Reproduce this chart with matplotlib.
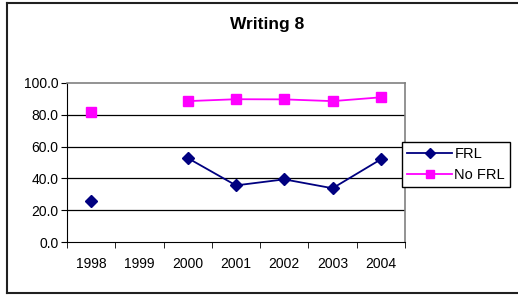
import numpy as np
import matplotlib.pyplot as plt
from matplotlib.lines import Line2D

plt.rcParams['font.family'] = ['Liberation Sans', 'DejaVu Sans']

years = ['1998', '1999', '2000', '2001', '2002', '2003', '2004']
frl = [25.5, np.nan, 52.8, 35.6, 39.4, 33.8, 52.0]
no_frl = [82.0, np.nan, 88.6, 89.8, 89.7, 88.6, 91.0]

fig = plt.figure(figsize=(5.18, 2.96), dpi=100)

# outer chart border (left, top, bottom)
fig.add_artist(Line2D([7/518, 7/518], [1-3/296, 1-293/296], color='#202020', lw=1.5, transform=fig.transFigure))
fig.add_artist(Line2D([7/518, 1.0], [1-3/296, 1-3/296], color='#202020', lw=1.5, transform=fig.transFigure))
fig.add_artist(Line2D([7/518, 1.0], [1-293/296, 1-293/296], color='#202020', lw=1.5, transform=fig.transFigure))

ax = fig.add_axes([67/518, 1-242/296, 338/518, 159/296])
x = np.arange(len(years))
ax.plot(x, frl, color='#000080', marker='D', markersize=6.5, lw=1.3, label='FRL')
ax.plot(x, no_frl, color='#FF00FF', marker='s', markersize=7, lw=1.3, label='No FRL')

ax.set_xlim(-0.5, len(years) - 0.5)
ax.set_ylim(0, 100)
ax.set_yticks(np.arange(0, 101, 20))
ax.set_yticklabels([f'{v:.1f}' for v in np.arange(0, 101, 20)], fontsize=10)
ax.set_xticks(x)
ax.set_xticklabels(years, fontsize=10)
ax.tick_params(axis='x', which='major', length=0, pad=11)
ax.set_xticks(np.arange(-0.5, len(years)), minor=True)
ax.tick_params(axis='x', which='minor', length=4, direction='out', color='black')
ax.tick_params(axis='y', length=4, direction='out', pad=2)
for v in [20, 40, 60, 80]:
    ax.axhline(v, color='black', lw=0.9, zorder=0)
ax.spines['top'].set_color('#808080')
ax.spines['right'].set_color('#808080')
ax.spines['top'].set_linewidth(1.2)
ax.spines['right'].set_linewidth(1.2)

fig.text(267/518, 1-25/296, 'Writing 8', ha='center', va='center', fontsize=12.5, fontweight='bold')

fig.legend(loc='upper left', bbox_to_anchor=(402/518, 1-142/296), fontsize=10.5,
           frameon=True, fancybox=False, edgecolor='black', framealpha=1,
           handlelength=3.1, handletextpad=0.15, borderpad=0.35, labelspacing=0.45,
           markerscale=0.8, borderaxespad=0)

fig.savefig('out.png', dpi=100)
